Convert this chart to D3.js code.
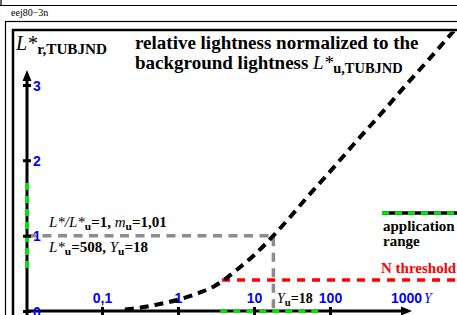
<!DOCTYPE html>
<html>
<head>
<meta charset="utf-8">
<script src="https://cdn.jsdelivr.net/npm/d3@7"></script>
<style>
  body { margin: 0; background: #fff; }
  svg { display: block; font-family: "Liberation Serif", "Times New Roman", serif; }
</style>
</head>
<body>
<div id="chart"></div>
<script>
// Relative lightness L*r vs. luminance Y (log axis)

// Data
const curveY = [0.2, 0.3, 0.5, 1, 2, 3, 4, 6, 10, 18, 30, 50, 100, 200, 500, 1000, 2000, 5000];
const curveL = [0.02, 0.04, 0.08, 0.15, 0.25, 0.33, 0.41, 0.55, 0.74, 1.0, 1.25, 1.51, 1.85, 2.2, 2.65, 3.0, 3.34, 3.8];
const xTicks = [0.1, 1, 10, 100, 1000];
const xTickLabels = ["0,1", "1", "10", "100", "1000"];
const yTicks = [0, 1, 2, 3];
const refY = 18;          // Yu
const refL = 1;           // L*/L*u
const thresholdL = 0.41;  // N threshold
const thresholdStartY = 3.8;
const appRangeY = [3.6, 70];
const appRangeL = [0.52, 1.7];
const xAxisEnd = 1200;
const yAxisEnd = 3.2;

// Size
const width = 457, height = 315;
const axisX = 27, axisY = 311;

const svg = d3.select("#chart").append("svg")
    .attr("width", width)
    .attr("height", height);

// Scales
let x = d3.scaleLog().domain([1, 10]).range([178, 254]);
let y = d3.scaleLinear().domain([0, 3]).range([axisY, 85]);

// Frames
svg.append("path").attr("d", "M0,5.5H457M1,0V5.5")
    .attr("fill", "none").attr("stroke", "#000").attr("stroke-width", 1.2);
svg.append("text").attr("x", 11).attr("y", 16).attr("font-size", 10).text("eej80\u22123n");
svg.append("rect").attr("x", 5.5).attr("y", 21.5).attr("width", 500).attr("height", 400)
    .attr("fill", "none").attr("stroke", "#000").attr("stroke-width", 1.2);
svg.append("rect").attr("x", 13).attr("y", 30).attr("width", 500).attr("height", 400)
    .attr("fill", "none").attr("stroke", "#000").attr("stroke-width", 2.5);

svg.append("clipPath").attr("id", "inner")
    .append("rect").attr("x", 14).attr("y", 31.5).attr("width", 460).attr("height", 300);

const g = svg.append("g").attr("clip-path", "url(#inner)");

// Reference lines (gray)
g.append("path")
    .attr("d", `M${axisX},${y(refL)}H${x(refY)}V${axisY}`)
    .attr("fill", "none").attr("stroke", "#8c8c8c").attr("stroke-width", 3.5)
    .attr("stroke-dasharray", "9,6.5");

// N threshold (red)
g.append("line")
    .attr("x1", x(thresholdStartY)).attr("x2", width + 10)
    .attr("y1", y(thresholdL)).attr("y2", y(thresholdL))
    .attr("stroke", "#ff0000").attr("stroke-width", 3.5)
    .attr("stroke-dasharray", "8,7");

// Axes lines
g.append("line").attr("x1", axisX).attr("x2", x(xAxisEnd) - 6)
    .attr("y1", axisY).attr("y2", axisY)
    .attr("stroke", "#000").attr("stroke-width", 3);
g.append("line").attr("x1", axisX).attr("x2", axisX)
    .attr("y1", axisY + 5).attr("y2", y(yAxisEnd) + 6)
    .attr("stroke", "#000").attr("stroke-width", 3);
// arrowheads
g.append("path")
    .attr("d", `M${x(xAxisEnd)},${axisY}l-11,-4.5v9z`).attr("fill", "#000");
g.append("path")
    .attr("d", `M${axisX},${y(yAxisEnd)}l-4.5,11h9z`).attr("fill", "#000");

// Application range (green on axes)
g.append("line")
    .attr("x1", x(appRangeY[0])).attr("x2", x(appRangeY[1]))
    .attr("y1", axisY).attr("y2", axisY)
    .attr("stroke", "#00e600").attr("stroke-width", 3.5).attr("stroke-dasharray", "7,6");
g.append("line")
    .attr("x1", axisX).attr("x2", axisX)
    .attr("y1", y(appRangeL[1])).attr("y2", y(appRangeL[0]))
    .attr("stroke", "#00e600").attr("stroke-width", 3.5).attr("stroke-dasharray", "7,6");

// Ticks via d3 axes
let xAxis = g.append("g").attr("transform", `translate(0,${axisY})`)
    .call(d3.axisTop(x).tickValues(xTicks)
        .tickFormat((d, i) => xTickLabels[i]).tickSize(0).tickPadding(8));
xAxis.select(".domain").remove();
xAxis.selectAll(".tick").append("line")
    .attr("y1", -4).attr("y2", 4).attr("stroke", "#000").attr("stroke-width", 3)
    .attr("display", d => d === 1000 ? "none" : null);
xAxis.selectAll(".tick text")
    .attr("fill", "#0000ff").attr("font-size", 14).attr("font-weight", "bold")
    .attr("font-family", null);

let yAxis = g.append("g").attr("transform", `translate(${axisX},0)`)
    .call(d3.axisRight(y).tickValues(yTicks).tickFormat(d3.format("d"))
        .tickSize(0).tickPadding(6));
yAxis.select(".domain").remove();
yAxis.selectAll(".tick").append("line")
    .attr("x1", -4).attr("x2", 4).attr("stroke", "#000").attr("stroke-width", 3);
yAxis.selectAll(".tick text")
    .attr("fill", "#0000ff").attr("font-size", 14).attr("font-weight", "bold")
    .attr("font-family", null).attr("dy", "0.36em");

// Curve
const pts = curveY.map((d, i) => ({Y: d, L: curveL[i]}));
let line = d3.line()
    .x(d => x(d.Y))
    .y(d => y(d.L))
    .curve(d3.curveMonotoneX);
g.append("path")
    .datum(pts)
    .attr("fill", "none")
    .attr("stroke", "#000")
    .attr("stroke-width", 4)
    .attr("stroke-dasharray", "9,6")
    .attr("d", line);

// Rich text helper: parts = [text, style] with style "b" bold, "i" italic, "s" bold subscript
function rich(sel, px, py, size, parts, fill) {
    const t = sel.append("text").attr("x", px).attr("y", py)
        .attr("font-size", size).attr("fill", fill || "#000");
    let sub = false;
    const shift = Math.round(size * 0.22);
    parts.forEach(([txt, st]) => {
        const ts = t.append("tspan").text(txt);
        const isSub = st === "s";
        if (isSub && !sub) ts.attr("dy", shift);
        if (!isSub && sub) ts.attr("dy", -shift);
        sub = isSub;
        ts.attr("font-size", isSub ? size * 0.76 : size)
          .attr("font-style", st === "i" ? "italic" : "normal")
          .attr("font-weight", st === "i" ? "normal" : "bold");
    });
    return t;
}

// Titles
rich(svg, 16, 50, 20, [["L*", "i"], ["r,TUBJND", "s"]]);
rich(svg, 135, 49, 19, [["relative lightness normalized to the", "b"]]);
rich(svg, 135, 69, 19, [["background lightness ", "b"], ["L*", "i"], ["u,TUBJND", "s"]]);

// Annotations
rich(svg, 49, 227, 15, [["L*/L*", "i"], ["u", "s"], ["=1, ", "b"], ["m", "i"], ["u", "s"], ["=1,01", "b"]]);
rich(svg, 49, 252, 15, [["L*", "i"], ["u", "s"], ["=508, ", "b"], ["Y", "i"], ["u", "s"], ["=18", "b"]]);
rich(svg, 277, 303, 14, [["Y", "i"], ["u", "s"], ["=18", "b"]]);
svg.append("text").attr("x", 424).attr("y", 303).attr("font-size", 14)
    .attr("font-style", "italic").attr("fill", "#0000ff").text("Y");

// Legend
svg.append("line").attr("x1", 382).attr("x2", 460).attr("y1", 213).attr("y2", 213)
    .attr("stroke", "#000").attr("stroke-width", 3.5);
svg.append("line").attr("x1", 382).attr("x2", 460).attr("y1", 213).attr("y2", 213)
    .attr("stroke", "#00e600").attr("stroke-width", 3.5).attr("stroke-dasharray", "7,6");
rich(svg, 383, 231, 15, [["application", "b"]]);
rich(svg, 383, 246, 15, [["range", "b"]]);
rich(svg, 381, 273, 15, [["N threshold", "b"]], "#ff0000");
</script>
</body>
</html>
